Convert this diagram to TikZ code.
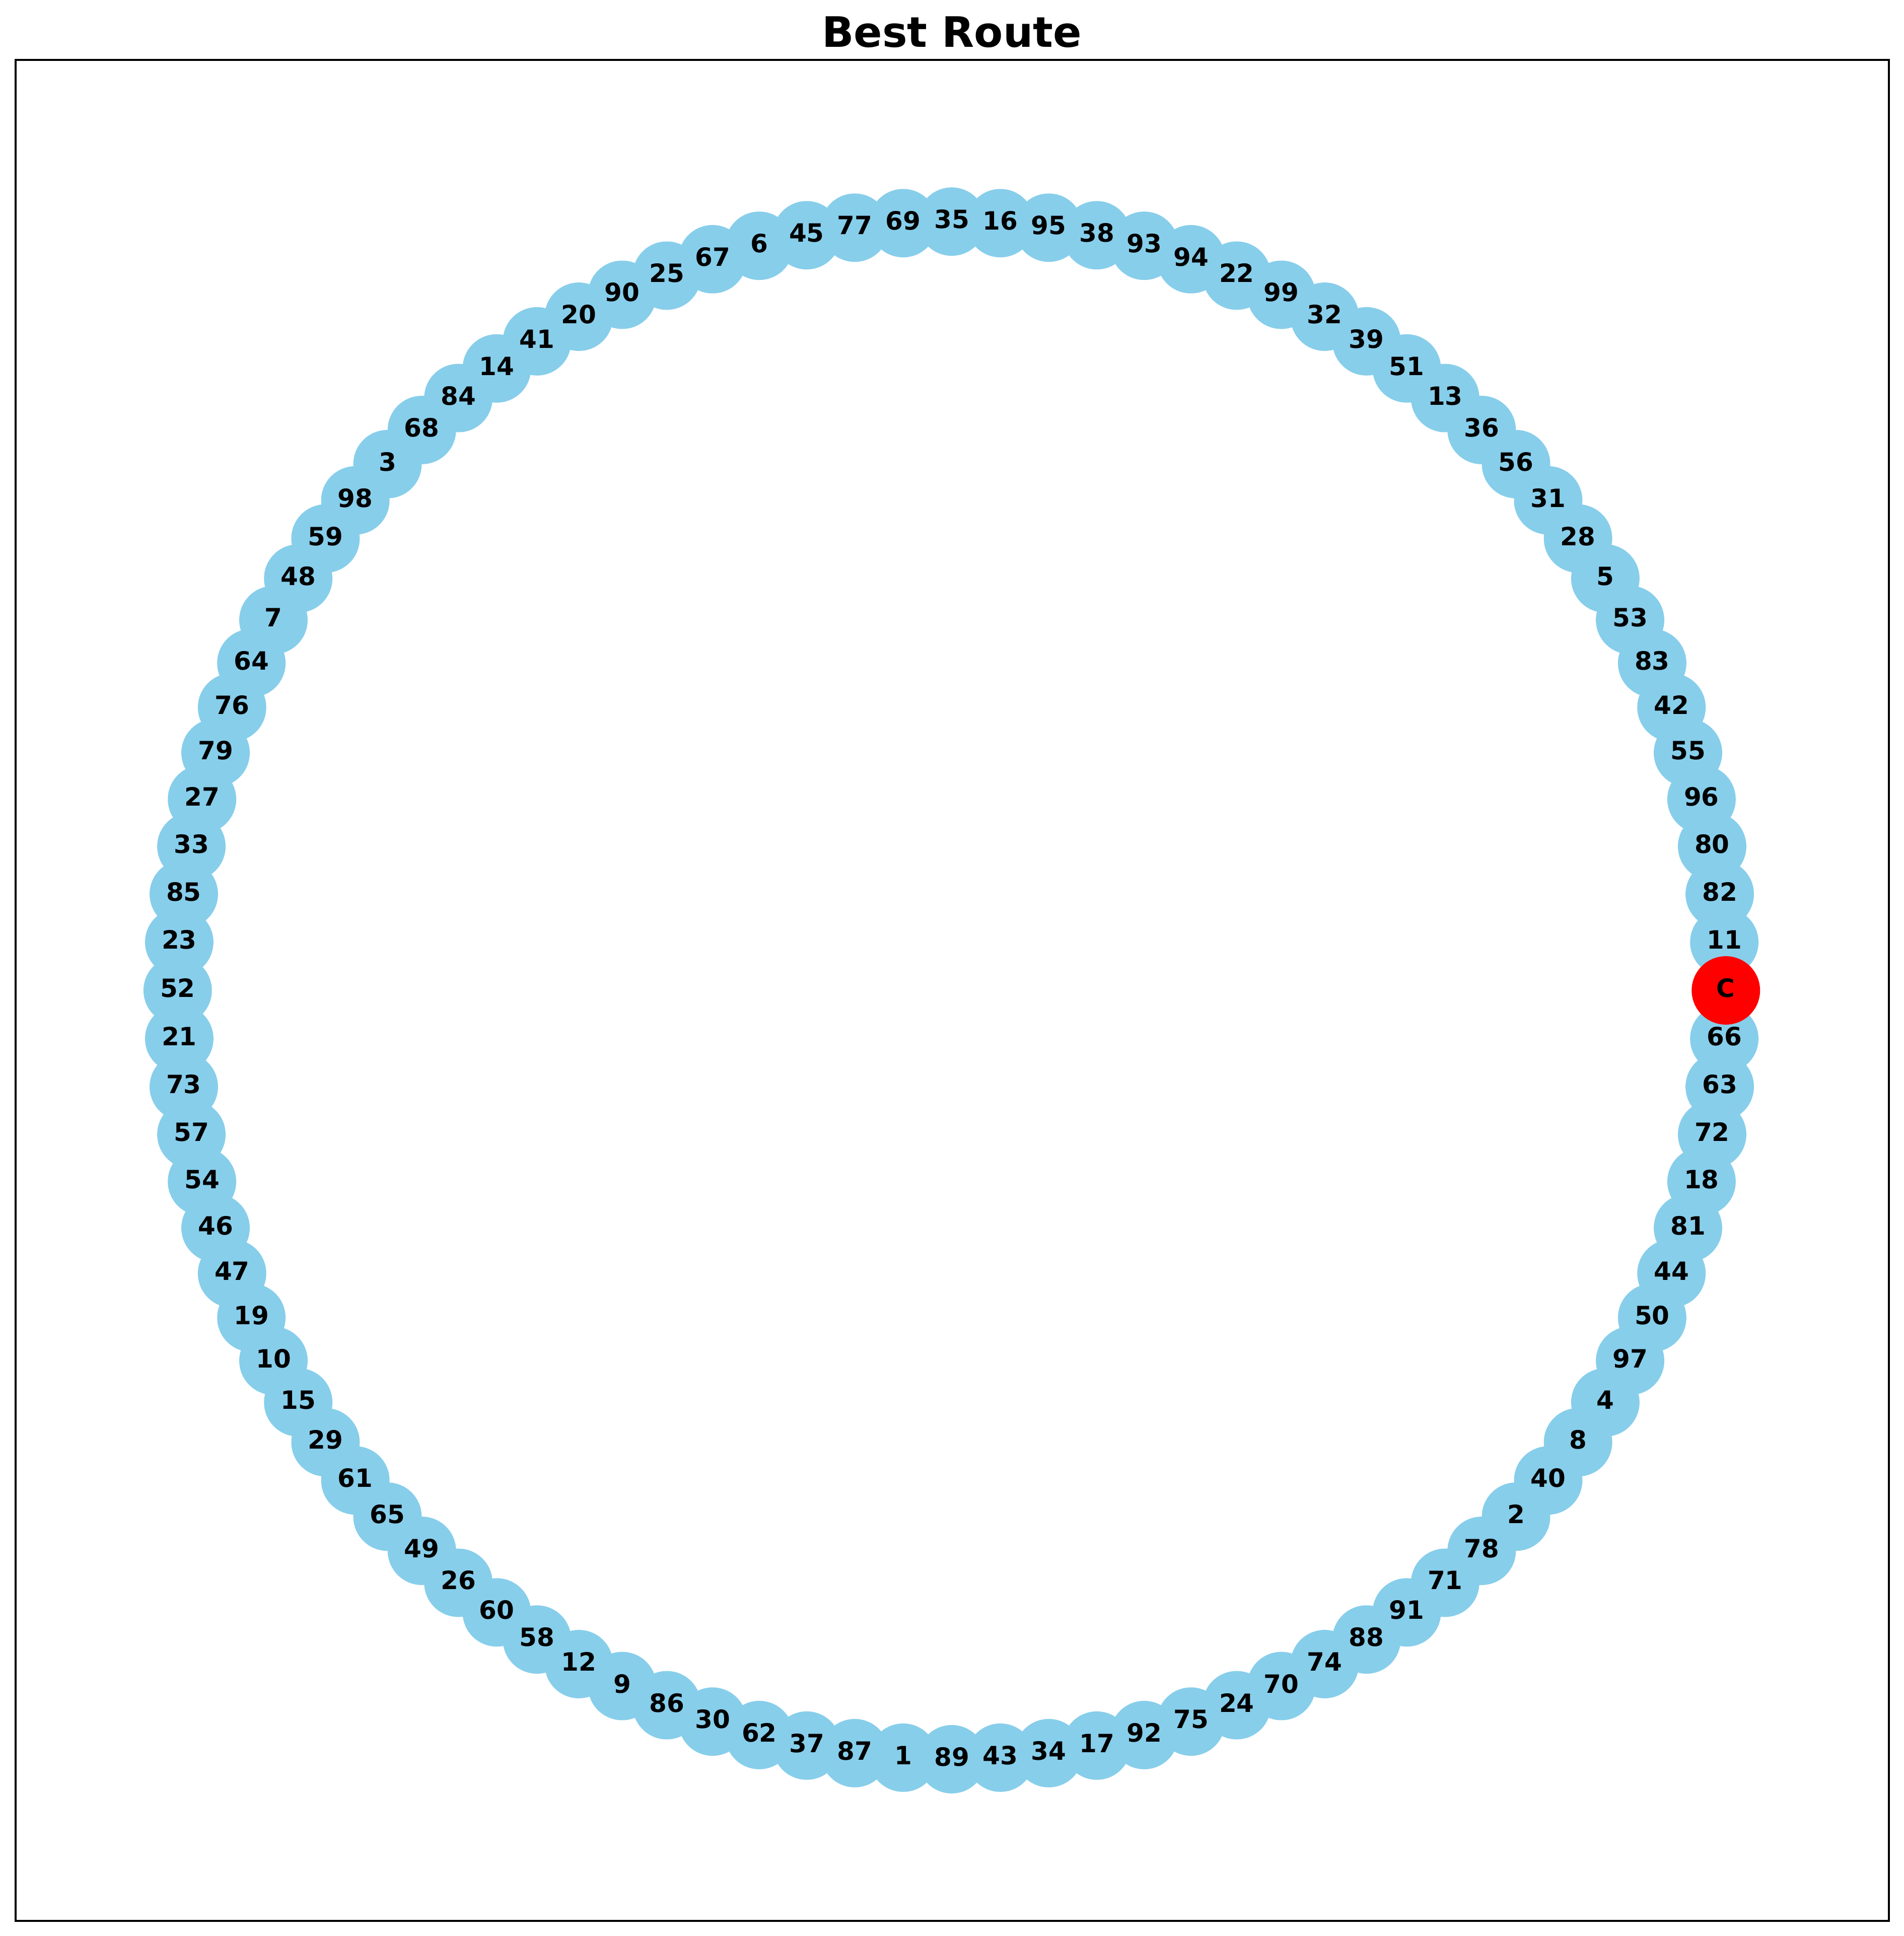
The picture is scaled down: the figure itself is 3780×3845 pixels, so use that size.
\documentclass[tikz,border=0pt]{standalone}
\usepackage{fontspec}
\setmainfont{DejaVu Sans}
\definecolor{skyblue}{RGB}{135,206,235}
\begin{document}
\begin{tikzpicture}[x=0.24pt,y=-0.24pt,
  citynode/.style={circle,minimum size=32.6pt,inner sep=0pt,fill=skyblue,draw=none},
  depotnode/.style={circle,minimum size=32.6pt,inner sep=0pt,fill=red,draw=none},
  citylabel/.style={anchor=base,inner sep=0pt,font=\bfseries\fontsize{12pt}{14pt}\selectfont,text=black},
  titlelabel/.style={anchor=base,inner sep=0pt,font=\bfseries\fontsize{20pt}{24pt}\selectfont}]
\useasboundingbox (0,0) rectangle (3780,3845);
\fill[white] (0,0) rectangle (3780,3845);
\def\route{C,11,82,80,96,55,42,83,53,5,28,31,56,36,13,51,39,32,99,22,94,93,38,95,16,35,69,77,45,6,67,25,90,20,41,14,84,68,3,98,59,48,7,64,76,79,27,33,85,23,52,21,73,57,54,46,47,19,10,15,29,61,65,49,26,60,58,12,9,86,30,62,37,87,1,89,43,34,17,92,75,24,70,74,88,91,71,78,2,40,8,4,97,50,44,81,18,72,63,66}
% frame
\draw[line width=0.8pt] (31,119) rectangle (3751,3815);
% title
\node[titlelabel] (title) at (1890,94) {Best Route};
% city nodes
\foreach \lab [count=\i from 0] in \route {
  \pgfmathsetmacro{\ang}{3.6*\i}
  \ifnum\i>0
    \node[citynode] (n\lab) at ({1890+1537.2*cos(\ang)},{1967-1526.9*sin(\ang)}) {};
  \fi
}
% depot
\node[depotnode] (nC) at (3427.2,1967) {};
% labels
\foreach \lab in \route {
  \node[citylabel] (t\lab) at ([yshift=-3.24pt]n\lab.center) {\lab};
}
\end{tikzpicture}
\end{document}
